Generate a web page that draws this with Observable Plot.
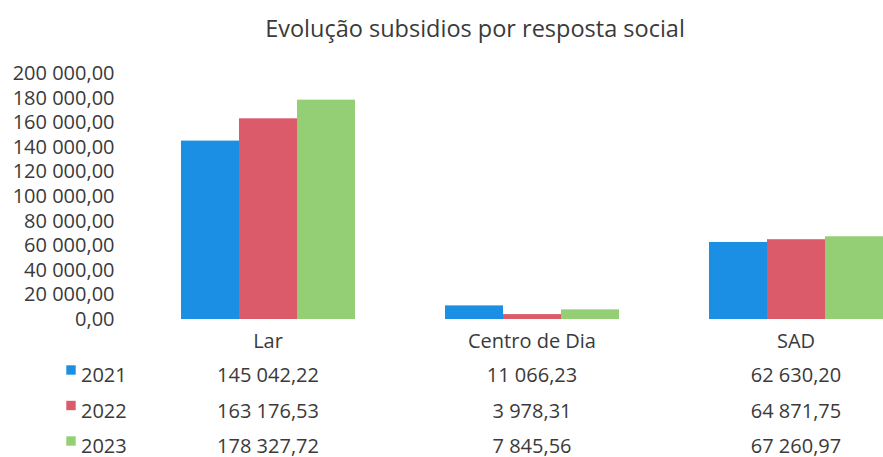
<!DOCTYPE html>
<html>
<head>
<meta charset="utf-8">
<script src="https://cdn.jsdelivr.net/npm/d3@7"></script>
<script src="https://cdn.jsdelivr.net/npm/@observablehq/plot@0.6"></script>
<style>
  body { margin: 0; background: #fff; }
  #wrap { width: 883px; height: 457px; font-family: "Open Sans", sans-serif; color: #3a3a3a; }
  #title { height: 48px; line-height: 57px; font-size: 23.5px; text-align: center; padding-left: 67px; box-sizing: border-box; white-space: nowrap; }
</style>
</head>
<body>
<div id="wrap">
  <div id="title">Evolução subsidios por resposta social</div>
  <div id="chart"></div>
</div>
<script>
const categories = ["Lar", "Centro de Dia", "SAD"];
const years = ["2021", "2022", "2023"];
const values2021 = [145042.22, 11066.23, 62630.20];
const values2022 = [163176.53, 3978.31, 64871.75];
const values2023 = [178327.72, 7845.56, 67260.97];
const yTicks = [0, 20000, 40000, 60000, 80000, 100000, 120000, 140000, 160000, 180000, 200000];
const colors = ["#1a8fe3", "#db5b6b", "#94cf75"];

const series = [values2021, values2022, values2023];
const data = years.flatMap((yr, i) => categories.map((c, j) => ({category: c, year: yr, value: series[i][j]})));

const fmt = d3.formatLocale({decimal: ",", thousands: "\u00a0", grouping: [3], currency: ["", ""]}).format(",.2f");

const rowDy = [62, 98, 133];
const swatchDy = [50.5, 86, 121.5];

const marks = [
  Plot.barY(data, {fx: "category", x: "year", y: "value", fill: "year"}),
  Plot.axisY({ticks: yTicks, tickFormat: fmt, tickSize: 0, tickPadding: 66, fontSize: 20, label: null}),
  Plot.axisFx({anchor: "bottom", tickSize: 0, tickPadding: 14, fontSize: 20, label: null})
];
years.forEach((yr, i) => {
  marks.push(Plot.text(data.filter(d => d.year === yr), {
    fx: "category", text: d => fmt(d.value), frameAnchor: "bottom", lineAnchor: "bottom", dy: rowDy[i], fontSize: 20
  }));
  marks.push(Plot.dot([yr], {
    fx: () => categories[0], frameAnchor: "bottom", symbol: "square", r: 5.3, fill: d => d, stroke: null,
    dx: -197, dy: swatchDy[i]
  }));
  marks.push(Plot.text([yr], {
    fx: () => categories[0], text: d => d, frameAnchor: "bottom", lineAnchor: "bottom", textAnchor: "start",
    dx: -187, dy: rowDy[i], fontSize: 20
  }));
});

const chart = Plot.plot({
  width: 883,
  height: 409,
  marginTop: 25,
  marginBottom: 138,
  marginLeft: 135,
  marginRight: 0,
  style: {fontFamily: "Open Sans, sans-serif", color: "#3a3a3a", background: "#fff", overflow: "visible"},
  fx: {domain: categories, paddingInner: 0.337, paddingOuter: 0.085, align: 1, label: null, axis: null},
  x: {domain: years, padding: 0, axis: null},
  y: {domain: [0, 200000], axis: null, label: null},
  color: {domain: years, range: colors},
  marks
});
document.getElementById("chart").appendChild(chart);
</script>
</body>
</html>
